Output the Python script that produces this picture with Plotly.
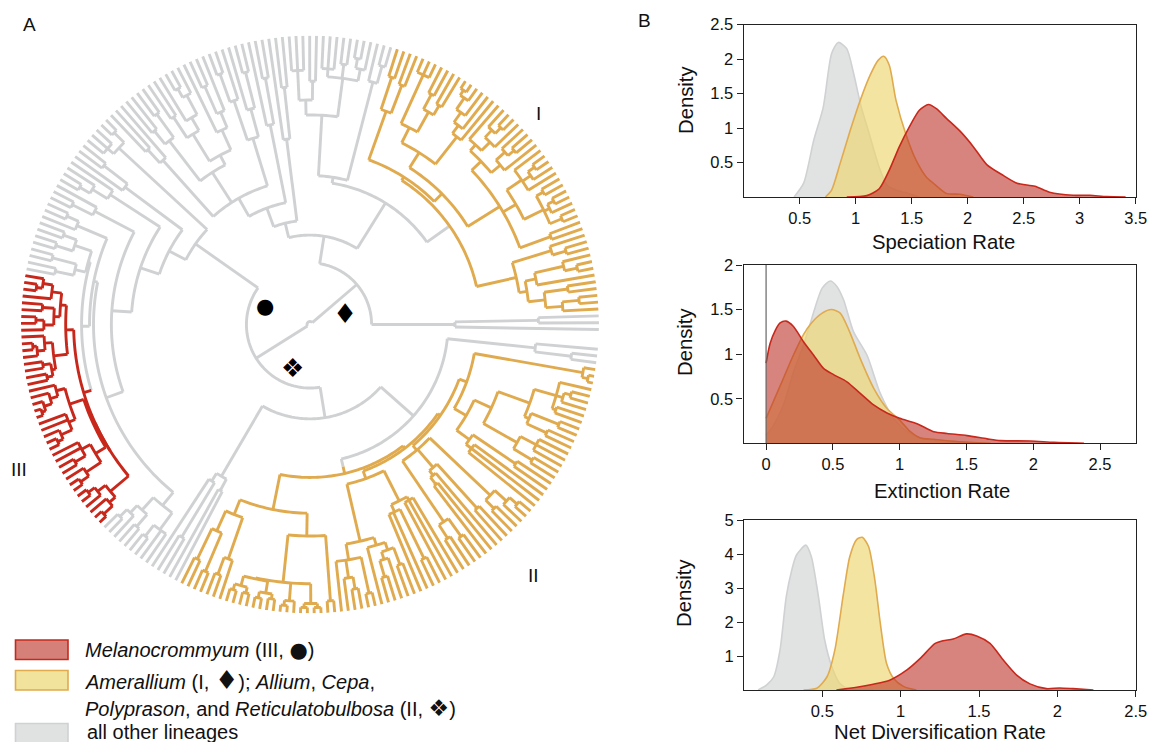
import re
import plotly.graph_objects as go

W, H = 1152, 742

# ---------- phylogeny: "(depth child child ...)", "." is a tip ----------
TIP_DEPTH = 291
OPEN_GAP_DEG = 3.9
FIRST_TIP_DEG = -1.0

# Amerallium (I)
I_L = "(213 (221 (238 (255 . (272 . .)) (262 . .)) (232 . (262 (275 . .) .))) (254 (268 . .) .))"
I_LINE = "(258 . .)"
I_S24 = "(262 (275 . .) (268 . (275 . .)) (270 . .))"
I_S35 = "(258 . (268 . (276 . .)) .)"
I_UP = "(238 (250 . (262 (270 . .) .)) (246 (258 . (268 (276 . .) .)) .))"
I_U1 = f"(225 {I_LINE} (240 {I_S24} {I_S35}) {I_UP})"
I_C = "(240 . (250 . (262 . (276 . (282 . .)))))"
I_B = "(222 (245 (256 . .) (262 . .)) (276 . . .))"
I_A = "(228 (258 . .) (262 . .))"
I_U2 = f"(205 {I_C} {I_B})"
AMERALLIUM = f"o(172 {I_L} (176 (187 {I_U1} {I_U2}) {I_A}))"

# Allium, Cepa, Polyprason, Reticulatobulbosa (II)
II_A1 = "(206 (228 (262 . .) (270 . .)) (250 (268 . .) .))"
II_A2L = "(262 (272 (278 . .) (278 . .)) (274 (280 . .) (279 . .)))"
II_A2M = "(279 (284 . .) .)"
II_A2R = "(281 (285 . .) (285 . .))"
II_A3 = "(279 . .)"
II_A = f"(190 {II_A1} (213 (261 {II_A2L} {II_A2M} {II_A2R}) {II_A3}))"
II_B1 = "(240 . (258 . (270 . .)) (277 . .))"
II_B2 = "(232 . (240 (248 (265 . .) .) (258 . .)))"
II_B3 = "(199 (207 . . (262 . .)) (203 . . .))"
II_B = f"(165 (224 {II_B1} {II_B2}) {II_B3})"
II_G1 = "(240 (256 . .) (262 . .))"
II_G2 = "(190 (196 (205 . .) .) (250 . .))"
II_G3 = "(250 (262 . .) (266 . (276 . .)))"
II_C = "(198 (205 . . .) (250 . .))"
II_D = "(240 (262 . .) (258 . . .))"
II_E = "(235 (240 (262 . .) (270 . .)) (258 (262 . .) (265 . (272 . .)) .))"
II_F = "(279 (285 . .) .)"
II_O5 = f"(168 (182 {II_C} (201 {II_D} {II_E})) {II_F})"
RETIC = f"(147 O(154 {II_A} (157 {II_B} (160 (166 {II_G1} {II_G2} {II_G3}) {II_O5}))))"

# Melanocrommyum (III)
III_A = "(252 (262 (272 . (278 . .)) .) (258 (270 . .) (268 (276 . .) .)))"
III_B = "(260 (268 . (276 (280 . .) .)) (264 (272 . .) (270 . .)))"
III_C = "(255 (264 . (272 . (280 . (284 . .)))) (262 . . (274 . (280 . .))))"
III_D = "(252 (262 . . (274 . .)) (270 . (280 . .)))"
III_E = "(262 (272 (280 . .) .) (270 . (282 . .)))"
MELANO = f"R(238 (246 {III_A} {III_B}) (238 (240 {III_C} {III_D}) {III_E}))"

# all other lineages
G_R1 = "(146 . (230 . .))"
G_R2 = "(228 (265 . .) .)"
G_1 = "(252 (270 . .) .)"
G_2A = "(250 (262 . (272 . .)) (264 . .) (258 . . .))"
G_2B = "(226 (245 . .) (256 . . .))"
G_96 = "(188 (240 . .) .)"
G_98 = "(205 (252 . .) .)"
G_107 = "(196 (225 (262 . .) .) (238 . (268 . .)))"
G_111 = "(215 (232 . (262 . .)) .)"
G_120 = "(225 (240 (262 . (272 . .)) .) (250 . .))"
G_129 = "(233 (262 . .) (250 . .))"
G_131 = "(222 . (240 . .))"
G_134 = "(262 (276 . .) (270 . . .))"
G_141 = "(232 (262 . .) .)"
G_146 = "(240 . (258 . (270 . .)))"
G_148 = "(245 . (268 . .))"
G_149 = "(255 (268 . .) .)"
G_160 = "(232 (250 (264 . .) (268 . .)) (243 (268 . .) (262 . .)))"
G_234 = "(235 (252 (262 (272 . .) .) (268 . .)) (256 (270 . .) . .))"
G_240 = "(177 (186 . (250 . .)) (190 . .))"

CLADE_A = (f"(62 {G_R1} (90 (144 {AMERALLIUM} (150 {G_1} (211 {G_2A} {G_2B}))) "
           f"(105 {G_96} (125 {G_98} (146 {G_107} (182 (193 {G_111} {G_120}) {G_129}) {G_131})))))")
CLADE_B = (f"(64 (141 {G_134} (160 {G_141} (180 {G_146} (200 {G_148} (218 (222 {G_149} (230 {G_160} {MELANO})) {G_234}))))) "
           f"(95 {G_240} (139 {RETIC} {G_R2})))")
TREE = f"(3 {CLADE_A} {CLADE_B})"

# ---------- rate densities ----------
SPEC_GRAY_X = [.45, .535, .625, .71, .785, .845, .92, .98, 1.05, 1.12, 1.21, 1.28, 1.36, 1.45, 1.57]
SPEC_GRAY_Y = [0, .2, .82, 1.3, 2.08, 2.24, 2.15, 1.8, 1.3, .92, .43, .17, .1, .06, 0]
SPEC_ORANGE_X = [.73, .785, .86, .95, 1.04, 1.13, 1.2, 1.25, 1.3, 1.36, 1.45, 1.54, 1.63, 1.7, 1.81, 1.93, 2.05]
SPEC_ORANGE_Y = [0, .1, .48, .96, 1.4, 1.77, 1.98, 2.04, 1.91, 1.4, .9, .53, .29, .19, .05, .04, 0]
SPEC_RED_X = [.92, 1.1, 1.21, 1.3, 1.39, 1.48, 1.57, 1.65, 1.72, 1.81, 1.94, 2.05, 2.17, 2.32, 2.44, 2.6, 2.73, 2.94, 3.09, 3.24, 3.41]
SPEC_RED_Y = [0, .02, .12, .39, .73, 1.02, 1.26, 1.34, 1.28, 1.14, .94, .73, .47, .31, .2, .155, .07, .025, .025, .005, 0]

EXT_GRAY_X = [0, .055, .13, .205, .28, .34, .42, .48, .53, .58, .655, .755, .855, .955, 1.055, 1.155, 1.3, 1.55]
EXT_GRAY_Y = [.09, .2, .43, .8, 1.1, 1.39, 1.74, 1.82, 1.76, 1.61, 1.25, .99, .56, .28, .13, .06, .02, 0]
EXT_ORANGE_X = [0, .055, .13, .205, .28, .34, .42, .49, .555, .62, .705, .805, .905, 1.0, 1.08, 1.155, 1.255, 1.43, 1.68]
EXT_ORANGE_Y = [.28, .47, .73, .99, 1.22, 1.35, 1.46, 1.5, 1.46, 1.27, .95, .62, .39, .26, .13, .06, .045, .02, 0]
EXT_RED_X = [0, .03, .07, .105, .15, .205, .28, .355, .43, .505, .605, .705, .805, .905, 1.0, 1.13, 1.255, 1.355, 1.505, 1.655, 1.755, 1.98, 2.155, 2.38]
EXT_RED_Y = [.9, 1.12, 1.27, 1.35, 1.37, 1.31, 1.14, .99, .84, .77, .69, .56, .43, .34, .28, .22, .13, .11, .086, .05, .03, .026, .01, 0]

NET_GRAY_X = [.09, .145, .19, .23, .27, .305, .335, .395, .43, .475, .515, .56, .61, .675, .825]
NET_GRAY_Y = [0, .15, .39, 1.18, 2.75, 3.53, 3.97, 4.26, 3.92, 2.75, 1.47, .69, .2, .02, 0]
NET_ORANGE_X = [.38, .465, .53, .58, .635, .675, .72, .755, .795, .835, .87, .91, .955, 1.02, 1.1]
NET_ORANGE_Y = [0, .05, .39, 1.18, 2.84, 3.92, 4.43, 4.49, 4.22, 3.24, 1.96, .78, .34, .1, 0]
NET_RED_X = [.59, .72, .825, .93, 1.04, 1.125, 1.22, 1.27, 1.335, 1.42, 1.485, 1.57, 1.655, 1.74, 1.825, 1.93, 2.015, 2.1, 2.23]
NET_RED_Y = [0, .08, .17, .29, .59, .93, 1.37, 1.45, 1.5, 1.65, 1.59, 1.37, .88, .44, .18, .04, .06, .04, 0]

X_TICKS_SPEC = [.5, 1, 1.5, 2, 2.5, 3, 3.5]
Y_TICKS_SPEC = [.5, 1, 1.5, 2, 2.5]
X_TICKS_EXT = [0, .5, 1, 1.5, 2, 2.5]
Y_TICKS_EXT = [.5, 1, 1.5, 2]
X_TICKS_NET = [.5, 1, 1.5, 2, 2.5]
Y_TICKS_NET = [1, 2, 3, 4, 5]

GRAY, ORANGE, RED = "#cfd1d3", "#e0aa4e", "#c8281b"
GRAY_FILL = "rgba(205,206,207,0.6)"
ORANGE_FILL = "rgba(238,214,110,0.65)"
RED_FILL = "rgba(190,50,40,0.6)"
INK = "#222222"
FONT = "Liberation Sans"


# ---------- tree parsing and layout ----------
def parse(text):
    tokens = re.findall(r"[oOR]?\(|\)|\.|\d+", text)
    pos = [0]

    def node():
        tok = tokens[pos[0]]
        pos[0] += 1
        if tok == ".":
            return {"r": TIP_DEPTH, "kids": [], "tag": ""}
        tag = tok[:-1]
        r = int(tokens[pos[0]])
        pos[0] += 1
        kids = []
        while tokens[pos[0]] != ")":
            kids.append(node())
        pos[0] += 1
        return {"r": r, "kids": kids, "tag": tag}

    return node()


root = parse(TREE)


def count(n):
    return 1 if not n["kids"] else sum(count(k) for k in n["kids"])


STEP = (360 - OPEN_GAP_DEG) / (count(root) - 1)
next_tip = [FIRST_TIP_DEG]


def place(n):
    if not n["kids"]:
        n["t"] = next_tip[0]
        next_tip[0] += STEP
    else:
        for k in n["kids"]:
            place(k)
        n["t"] = (n["kids"][0]["t"] + n["kids"][-1]["t"]) / 2


place(root)
segs = {GRAY: ([], []), ORANGE: ([], []), RED: ([], [])}
TAGS = {"o": ORANGE, "O": ORANGE, "R": RED}


def add(color, rs, ts):
    segs[color][0].extend(rs + [None])
    segs[color][1].extend(ts + [None])


def walk(n, parent_r, parent_color):
    color = TAGS.get(n["tag"], parent_color)
    stem_color = parent_color if n["tag"] == "o" else color
    if parent_r is not None:
        add(stem_color, [parent_r, n["r"]], [n["t"], n["t"]])
    if len(n["kids"]) > 1:
        a, b = n["kids"][0]["t"], n["kids"][-1]["t"]
        pieces = max(2, int(abs(b - a)))
        ts = [a + (b - a) * i / pieces for i in range(pieces + 1)]
        add(color, [n["r"]] * len(ts), ts)
    for k in n["kids"]:
        walk(k, n["r"], color)


walk(root, None, GRAY)

fig = go.Figure()
for color in (GRAY, ORANGE, RED):
    fig.add_trace(go.Scatterpolar(r=segs[color][0], theta=segs[color][1], mode="lines",
                                  line=dict(color=color, width=2.9), cliponaxis=False,
                                  connectgaps=False, showlegend=False, hoverinfo="skip"))


def px_x(p):
    return p / W


def px_y(p):
    return 1 - p / H


CX, CY, RPX = 310, 324.5, 289
fig.update_layout(polar=dict(
    domain=dict(x=[px_x(CX - RPX), px_x(CX + RPX)], y=[px_y(CY + RPX), px_y(CY - RPX)]),
    bgcolor="rgba(0,0,0,0)",
    radialaxis=dict(range=[0, TIP_DEPTH], visible=False),
    angularaxis=dict(visible=False, direction="counterclockwise", rotation=0, thetaunit="degrees"),
))

# ---------- density panels ----------
PANELS = [
    dict(name="", box=(743.7, 1135.7, 24.5, 197), xr=[0, 3.5], yr=[0, 2.5], xt=X_TICKS_SPEC, yt=Y_TICKS_SPEC,
         data=[(SPEC_GRAY_X, SPEC_GRAY_Y), (SPEC_ORANGE_X, SPEC_ORANGE_Y), (SPEC_RED_X, SPEC_RED_Y)]),
    dict(name="2", box=(743.5, 1135.7, 265, 443.3), xr=[-0.169, 2.767], yr=[0, 2], xt=X_TICKS_EXT, yt=Y_TICKS_EXT,
         data=[(EXT_GRAY_X, EXT_GRAY_Y), (EXT_ORANGE_X, EXT_ORANGE_Y), (EXT_RED_X, EXT_RED_Y)]),
    dict(name="3", box=(744, 1135.7, 520, 690), xr=[0, 2.5], yr=[0, 5], xt=X_TICKS_NET, yt=Y_TICKS_NET,
         data=[(NET_GRAY_X, NET_GRAY_Y), (NET_ORANGE_X, NET_ORANGE_Y), (NET_RED_X, NET_RED_Y)]),
]
STYLES = [(GRAY, GRAY_FILL), (ORANGE, ORANGE_FILL), (RED, RED_FILL)]


def tick_text(vals):
    return [f"{v:g}" for v in vals]


for p in PANELS:
    l, r, t, b = p["box"]
    ax = dict(showline=True, mirror=True, linecolor=INK, linewidth=1.2, ticks="outside", ticklen=6,
              tickwidth=1.1, tickcolor=INK, showgrid=False, zeroline=False, automargin=False,
              tickfont=dict(family=FONT, size=16.5, color="#111"))
    fig.update_layout(**{
        "xaxis" + p["name"]: dict(ax, domain=[px_x(l), px_x(r)], range=p["xr"], tickvals=p["xt"],
                                  ticktext=tick_text(p["xt"]), anchor="y" + p["name"]),
        "yaxis" + p["name"]: dict(ax, domain=[px_y(b), px_y(t)], range=p["yr"], tickvals=p["yt"],
                                  ticktext=tick_text(p["yt"]), anchor="x" + p["name"]),
    })
    for (xs, ys), (lc, fc) in zip(p["data"], STYLES):
        fig.add_trace(go.Scatter(x=xs, y=ys, mode="lines", fill="tozeroy", fillcolor=fc,
                                 line=dict(color=lc, width=1.6, shape="spline", smoothing=0.7),
                                 xaxis="x" + p["name"], yaxis="y" + p["name"],
                                 showlegend=False, hoverinfo="skip"))

shapes = [
    dict(type="line", xref="x2", yref="y2", x0=0, x1=0, y0=0, y1=2, line=dict(color="#666", width=1.2)),
]
for (top, bottom, lc, fc) in [(640, 659.5, RED, "#d5817a"), (670.5, 690, ORANGE, "#f2e39c"), (723.5, 745, GRAY, "#e0e1e1")]:
    shapes.append(dict(type="rect", xref="paper", yref="paper", x0=px_x(15.5), x1=px_x(68),
                       y0=px_y(bottom), y1=px_y(top), fillcolor=fc, line=dict(color=lc, width=1.6)))


def text(x, y, s, size=20, anchor="left", color="#111", family=FONT, angle=0):
    return dict(xref="paper", yref="paper", x=px_x(x), y=px_y(y), text=s, showarrow=False, textangle=angle,
                xanchor=anchor if not angle else "center", yanchor="middle",
                font=dict(family=family, size=size, color=color))


SYM = "DejaVu Sans"
sym = lambda g, s: f"<span style='font-family:{SYM};font-size:{s}px'>{g}</span>"
annotations = [
    text(29, 24, "A", 19, "center"), text(644, 21, "B", 19, "center"),
    text(538, 113, "I", 19, "center"), text(533, 575, "II", 19, "center"), text(19, 469, "III", 19, "center"),
    text(265, 306, "●", 21, "center", "#000", SYM),
    text(345, 313.5, "♦", 27, "center", "#000", SYM),
    text(292, 368, "❖", 26, "center", "#000", SYM),
    text(83, 650, "<i>Melanocrommyum</i> (III, " + sym("●", 21) + ")"),
    text(83, 679.5, "<i>Amerallium</i> (I, " + sym("♦", 26) + "); <i>Allium</i>, <i>Cepa</i>,"),
    text(83, 708, "<i>Polyprason</i>, and <i>Reticulatobulbosa</i> (II, " + sym("❖", 23) + ")"),
    text(85, 732, "all other lineages"),
    text(943, 242, "Speciation Rate", 20.3, "center"),
    text(942, 491, "Extinction Rate", 20.3, "center"),
    text(940, 732, "Net Diversification Rate", 20.3, "center"),
    text(686, 100, "Density", 20.3, angle=-90),
    text(685, 342, "Density", 20.3, angle=-90),
    text(684, 593, "Density", 20.3, angle=-90),
]

fig.update_layout(width=W, height=H, margin=dict(l=0, r=0, t=0, b=0), paper_bgcolor="white",
                  plot_bgcolor="rgba(0,0,0,0)", shapes=shapes, annotations=annotations, showlegend=False,
                  font=dict(family=FONT))
fig.write_html("out.html", config={"displayModeBar": False},
               post_script="document.body.style.margin='0';document.body.style.overflow='hidden';")
